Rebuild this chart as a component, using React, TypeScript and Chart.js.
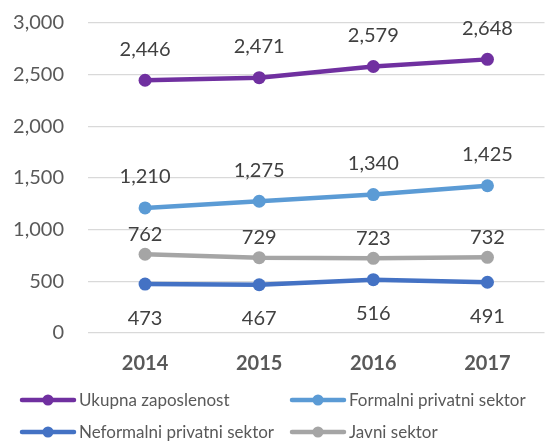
import React, { useEffect, useRef } from "react";
import { Chart, registerables } from "chart.js";

Chart.register(...registerables);

const categories = ["2014", "2015", "2016", "2017"];
const ukupna = [2446, 2471, 2579, 2648];
const formalni = [1210, 1275, 1340, 1425];
const neformalni = [473, 467, 516, 491];
const javni = [762, 729, 723, 732];
const seriesNames = [
  "Ukupna zaposlenost",
  "Formalni privatni sektor",
  "Neformalni privatni sektor",
  "Javni sektor",
];
const yTicks = [0, 500, 1000, 1500, 2000, 2500, 3000];

const colors = ["#7030A0", "#5B9BD5", "#4472C4", "#A5A5A5"];
const labelOffsets = [-31, -31, 34, -20];
const FONT = "Lato";

const fmt = (v: number) => v.toLocaleString("en-US");

const dataLabelPlugin = {
  id: "dataLabels",
  afterDatasetsDraw(chart: any) {
    const ctx = chart.ctx;
    ctx.save();
    ctx.font = `20px ${FONT}`;
    ctx.fillStyle = "#404040";
    ctx.textAlign = "center";
    ctx.textBaseline = "middle";
    chart.data.datasets.forEach((ds: any, i: number) => {
      const meta = chart.getDatasetMeta(i);
      meta.data.forEach((pt: any, j: number) => {
        ctx.fillText(fmt(ds.data[j]), pt.x, pt.y + labelOffsets[i]);
      });
    });
    ctx.restore();
  },
};

const legendPlugin = {
  id: "customLegend",
  afterDraw(chart: any) {
    const ctx = chart.ctx;
    const base = chart.chartArea.bottom;
    const rows = [base + 67, base + 99];
    const cols = [20, 290];
    ctx.save();
    ctx.font = `17px ${FONT}`;
    ctx.textBaseline = "middle";
    ctx.textAlign = "left";
    chart.data.datasets.forEach((ds: any, i: number) => {
      const x = cols[i % 2];
      const y = rows[Math.floor(i / 2)];
      ctx.strokeStyle = ds.borderColor;
      ctx.lineWidth = 4.5;
      ctx.lineCap = "round";
      ctx.beginPath();
      ctx.moveTo(x + 2, y);
      ctx.lineTo(x + 54, y);
      ctx.stroke();
      ctx.fillStyle = ds.borderColor;
      ctx.beginPath();
      ctx.arc(x + 28, y, 5.5, 0, Math.PI * 2);
      ctx.fill();
      ctx.fillStyle = "#595959";
      ctx.fillText(ds.label, x + 59, y + 1);
    });
    ctx.restore();
  },
};

export default function App() {
  const ref = useRef<HTMLCanvasElement>(null);
  useEffect(() => {
    const series = [ukupna, formalni, neformalni, javni];
    const chart = new Chart(ref.current as HTMLCanvasElement, {
      type: "line",
      data: {
        labels: categories,
        datasets: series.map((d, i) => ({
          label: seriesNames[i],
          data: d,
          borderColor: colors[i],
          backgroundColor: colors[i],
          borderWidth: 4.5,
          pointRadius: 6.5,
          pointBorderWidth: 0,
          pointBackgroundColor: colors[i],
          tension: 0,
        })),
      },
      options: {
        responsive: false,
        animation: false,
        events: [],
        layout: { padding: { top: 23, right: 1, left: 0, bottom: 56 } },
        plugins: { legend: { display: false }, tooltip: { enabled: false } },
        scales: {
          x: {
            offset: true,
            grid: { display: false, drawTicks: false },
            border: { display: false },
            ticks: {
              padding: 19,
              color: "#595959",
              font: { family: FONT, size: 20, weight: "bold" },
            },
            afterFit: (s: any) => {
              s.height = 52;
            },
          },
          y: {
            min: 0,
            max: 3000,
            afterBuildTicks: (s: any) => {
              s.ticks = yTicks.map((v) => ({ value: v }));
            },
            grid: { color: "#D9D9D9", lineWidth: 1.3, drawTicks: false },
            border: { display: false },
            ticks: {
              padding: 24,
              color: "#595959",
              font: { family: FONT, size: 20 },
              callback: (v: any) => fmt(Number(v)),
            },
            afterFit: (s: any) => {
              s.width = 88;
              s.paddingTop = 0;
              s.paddingBottom = 0;
            },
          },
        },
      },
      plugins: [dataLabelPlugin, legendPlugin],
    });
    return () => chart.destroy();
  }, []);
  return (
    <div style={{ position: "fixed", left: 0, top: 0, width: 551, height: 441, background: "#fff" }}>
      <canvas ref={ref} width={551} height={441} style={{ display: "block" }} />
    </div>
  );
}
